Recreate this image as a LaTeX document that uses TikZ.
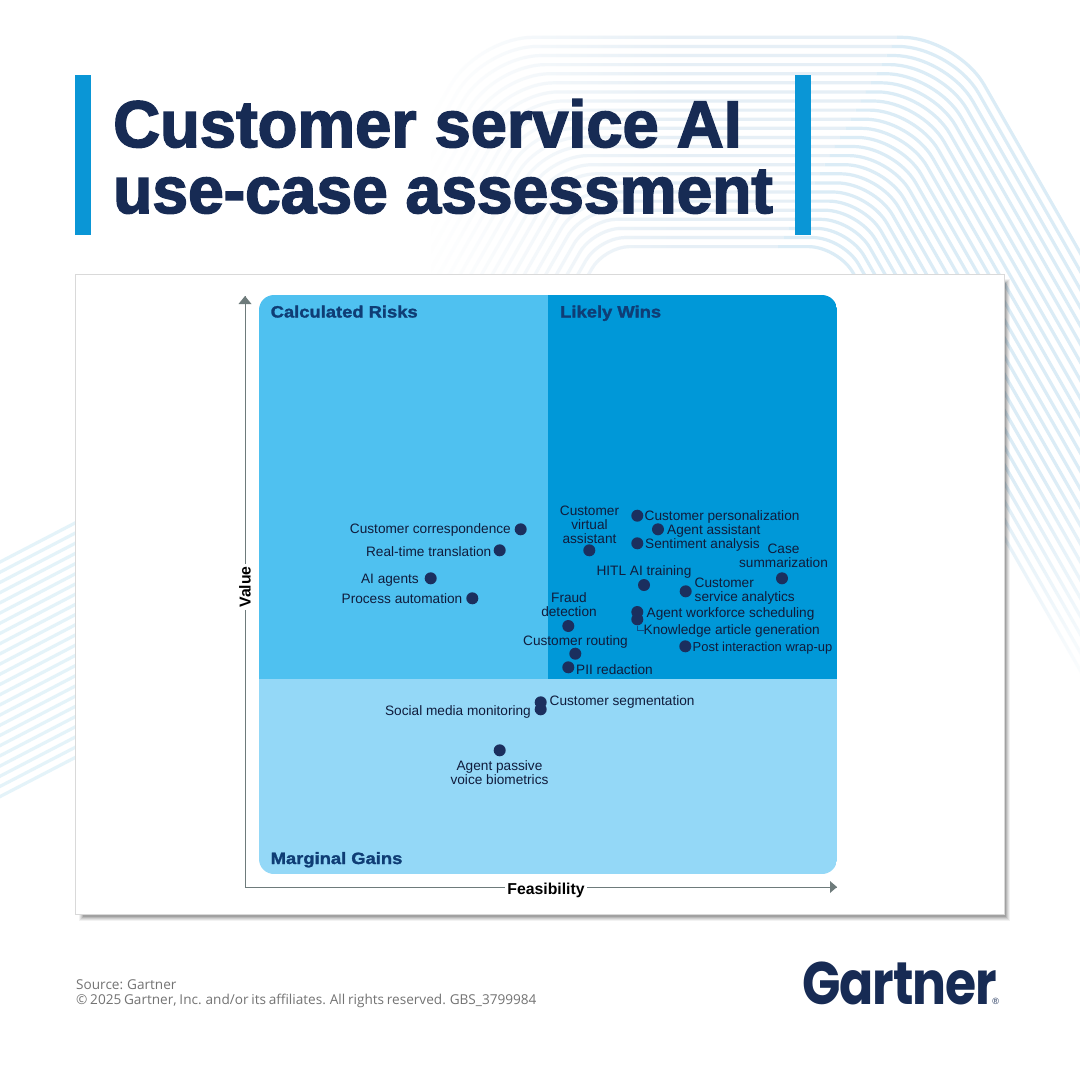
\documentclass[tikz,border=0pt]{standalone}
\usepackage{fontspec}
\usepackage{graphicx}
\usetikzlibrary{fadings}
\setmainfont{Liberation Sans}
\newfontfamily\titlef{Liberation Sans Bold}[FakeBold=2.4]
\newfontfamily\quadf{Liberation Sans Bold}[FakeBold=1.6,FakeStretch=1.12]
\newfontfamily\logof{Poppins}[LetterSpace=-2]
\newfontfamily\footf{Open Sans}[WordSpace=0.77]
\definecolor{navy}{HTML}{172B54}
\definecolor{barblue}{HTML}{0A96D6}
\definecolor{qrisk}{HTML}{4FC1F0}
\definecolor{qwin}{HTML}{0098D8}
\definecolor{qgain}{HTML}{94D8F7}
\definecolor{dotc}{HTML}{1B2F5E}
\definecolor{lblc}{HTML}{101C3C}
\definecolor{quadc}{HTML}{0F3D75}
\definecolor{axisc}{HTML}{6E7B7B}
\definecolor{bandh}{HTML}{E6EFF6}
\definecolor{bandd}{HTML}{DBECF6}
\definecolor{bandl}{HTML}{E4F3F9}
\tikzfading[name=fadeleft,left color=transparent!0,right color=transparent!100]
\tikzfading[name=fadedown,top color=transparent!100,bottom color=transparent!0]
\tikzset{
  pt/.style={circle,fill=dotc,draw=none,minimum size=12pt,inner sep=0pt},
  lbl/.style={font=\fontsize{13.65}{14}\selectfont,text=lblc,inner sep=0pt,align=center},
  qlabel/.style={font=\quadf\fontsize{16.4}{16}\selectfont,text=quadc,inner sep=0pt,anchor=base west},
  axislbl/.style={font=\bfseries\fontsize{15.8}{16}\selectfont,text=black,fill=white,inner sep=2pt},
  axisline/.style={draw=axisc,line width=1pt},
  arrowhead/.style={fill=axisc,draw=none},
  bar/.style={fill=barblue,draw=none},
  foot/.style={font=\footf\fontsize{13.6}{15}\selectfont,text=black!55,inner sep=0pt,anchor=base west},
}
\begin{document}
\begin{tikzpicture}[x=1pt,y=-1pt]
\useasboundingbox (0,0) rectangle (1080,1080);
\fill[white] (0,0) rectangle (1080,1080);
\begin{scope}
\clip (0,0) rectangle (1080,1080);
% background bands
\foreach \i in {0,...,23}{
  \pgfmathsetmacro{\yy}{37.3+9.1*\i}
  \pgfmathsetmacro{\xr}{957-5.17*\i}
  \pgfmathsetmacro{\xl}{478+5.5*\i}
  \pgfmathsetmacro{\tr}{55-1.1*\i}
  \pgfmathsetmacro{\tl}{55-1.3*\i}
  \draw[bandh,line width=3.2pt,rounded corners=\tl pt]
     (\xl-180,\yy+315) -- (\xl,\yy) -- (\xr-60,\yy);
  \draw[bandd,line width=3.2pt,rounded corners=\tr pt]
     (\xr-60,\yy) -- (\xr,\yy) -- (\xr+400,\yy+700);
}
\fill[white] (280,20) rectangle (431,285);
\fill[white,path fading=fadeleft] (430,20) rectangle (680,285);
\fill[white,path fading=fadedown] (1000,470) rectangle (1080,700);
% left band
\foreach \i in {0,...,23}{
  \pgfmathsetmacro{\yy}{562+10.2*\i}
  \draw[bandl,line width=3.2pt] (-5,\yy+2.6) -- (80,\yy-41.6);
}
\end{scope}
% card shadow
\foreach \d/\o in {0/.05,1/.07,2/.08,3/.10,4/.12}{
  \fill[black,opacity=\o] (79+\d,279+\d) rectangle (1010-\d,921-\d);
}
\node (card) [draw=black!15,fill=white,line width=.8pt,minimum width=929pt,minimum height=640pt,inner sep=0pt] at (539.5,594) {};
% title
\fill[bar] (75,75) rectangle (91,235);
\fill[bar] (795,75) rectangle (811,235);
\node (title1) [font=\titlef\fontsize{66}{66}\selectfont,text=navy,inner sep=0pt,anchor=base west] at (113,147) {\scalebox{.985}[1]{Customer service AI}};
\node (title2) [font=\titlef\fontsize{66}{66}\selectfont,text=navy,inner sep=0pt,anchor=base west] at (113,213) {\scalebox{.972}[1]{use-case assessment}};
% quadrants
\begin{scope}
\clip[rounded corners=15pt] (259,295) rectangle (837,874);
\fill[qrisk] (259,295) rectangle (548,679);
\fill[qwin] (548,295) rectangle (837,679);
\fill[qgain] (259,679) rectangle (837,874);
\end{scope}
\node (q1) [qlabel] at (270.5,317.5) {Calculated Risks};
\node (q2) [qlabel] at (560,317.5) {Likely Wins};
\node (q3) [qlabel] at (270.5,864) {Marginal Gains};
% axes
\coordinate (origin) at (245,887);
\coordinate (ytip) at (245,296);
\coordinate (xtip) at (837,887);
\draw[axisline] (ytip) -- (origin) -- (xtip);
\fill[arrowhead] (ytip) -- ++(-6.5,8) -- ++(13,0) -- cycle;
\fill[arrowhead] (xtip) -- ++(-7,-6) -- ++(0,12) -- cycle;
\node (vlab) [axislbl,rotate=90] at (245,587) {Value};
\node (flab) [axislbl] at (546,890) {Feasibility};
% dots
\node (d1) [pt] at (637.3,515.7) {};
\node (d2) [pt] at (658,529.3) {};
\node (d3) [pt] at (637.3,543.3) {};
\node (d4) [pt] at (589.3,550.3) {};
\node (d5) [pt] at (644,585) {};
\node (d6) [pt] at (685.7,591.3) {};
\node (d7) [pt] at (782,578.3) {};
\node (d8) [pt] at (637.3,612) {};
\node (d9) [pt] at (637.3,619.3) {};
\node (d10) [pt] at (685.3,646.3) {};
\node (d11) [pt] at (568.3,626) {};
\node (d12) [pt] at (575.3,653.7) {};
\node (d13) [pt] at (568.3,667.3) {};
\node (d14) [pt] at (520.7,529.3) {};
\node (d15) [pt] at (499.7,550.3) {};
\node (d16) [pt] at (430.7,578.3) {};
\node (d17) [pt] at (472.3,598.3) {};
\node (d18) [pt] at (540.7,702.3) {};
\node (d19) [pt] at (540.7,709.3) {};
\node (d20) [pt] at (499.7,750.3) {};
% labels
\node (l1) [lbl,anchor=base west] at (644.5,520.5) {Customer personalization};
\node (l2) [lbl,anchor=base west] at (667,534.5) {Agent assistant};
\node (l3) [lbl,anchor=base west] at (645,548.5) {Sentiment analysis};
\node (l4) [lbl] at (589.5,524.5) {Customer\\virtual\\assistant};
\node (l5) [lbl,anchor=base] at (644,575) {HITL AI training};
\node (l6) [lbl,anchor=west,align=left] at (694.5,591) {Customer\\service analytics};
\node (l7) [lbl] at (783.5,556) {Case\\summarization};
\node (l8) [lbl,anchor=base west] at (646.5,617) {Agent workforce scheduling};
\node (l9) [lbl,anchor=base west] at (643.5,634.5) {Knowledge article generation};
\node (l10) [lbl,anchor=base west,font=\fontsize{12.95}{14}\selectfont] at (692.5,651.5) {Post interaction wrap-up};
\node (l11) [lbl] at (569,604.5) {Fraud\\detection};
\node (l12) [lbl,anchor=base] at (575.5,645) {Customer routing};
\node (l13) [lbl,anchor=base west] at (576,674.5) {PII redaction};
\node (l14) [lbl,anchor=base east] at (511,533) {Customer correspondence};
\node (l15) [lbl,anchor=base east] at (491.5,556) {Real-time translation};
\node (l16) [lbl,anchor=base east] at (419,583) {AI agents};
\node (l17) [lbl,anchor=base east] at (462.5,603) {Process automation};
\node (l18) [lbl,anchor=base west] at (549.5,705.5) {Customer segmentation};
\node (l19) [lbl,anchor=base east] at (531,715) {Social media monitoring};
\node (l20) [lbl] at (499.5,773) {Agent passive\\voice biometrics};
% leader
\draw[draw=quadc!80!qwin,line width=1pt] (d9.south) |- (l9.west);
% footer
\node (f1) [foot] at (76,989) {Source: Gartner};
\node (f2) [foot] at (76,1004.5) {© 2025 Gartner, Inc. and/or its affiliates. All rights reserved. GBS\_3799984};
% logo
\node (logo) [font=\logof\bfseries\fontsize{60}{60}\selectfont,text=navy,inner sep=0pt,anchor=base west] at (802,1004) {\scalebox{.84}[1]{Gartner}\kern-5pt{\rmfamily\mdseries\fontsize{9}{9}\selectfont ®}};
\end{tikzpicture}
\end{document}
